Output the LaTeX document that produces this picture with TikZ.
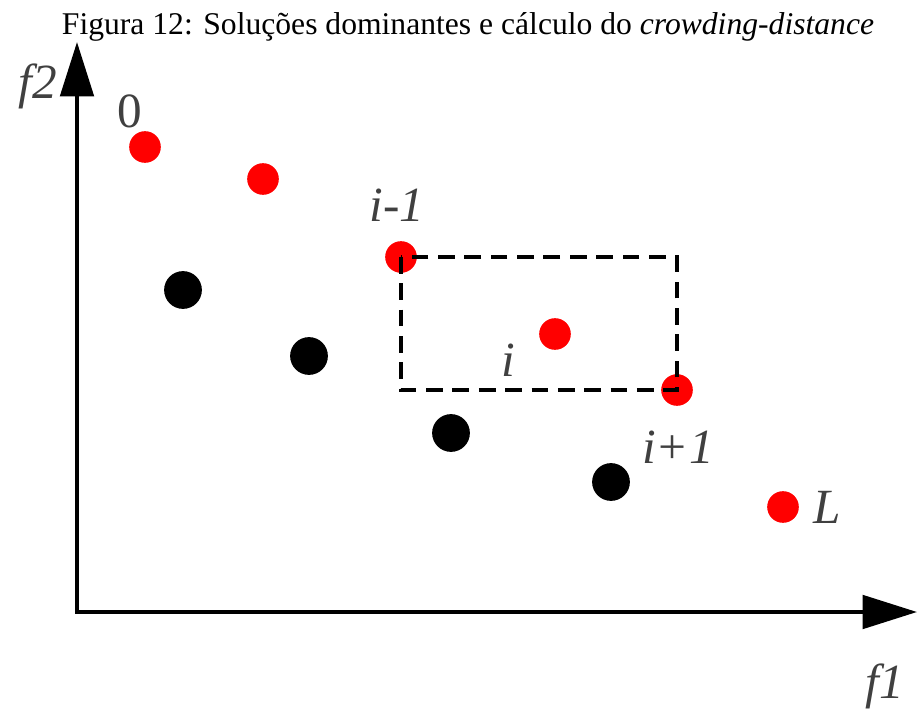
\documentclass[tikz,border=0pt]{standalone}
\usepackage{fontspec}
\setmainfont{LiberationSerif}[Extension=.ttf, UprightFont=*-Regular, ItalicFont=*-Italic, BoldFont=*-Bold, BoldItalicFont=*-BoldItalic]
\usetikzlibrary{arrows.meta,positioning}

\definecolor{lblgray}{RGB}{64,64,64}

\begin{document}
\begin{tikzpicture}[x=0.02cm, y=-0.02cm, >={Triangle[length=31pt, width=19pt]},
    reddot/.style={circle, fill=red, inner sep=0pt, minimum size=18pt},
    blackdot/.style={circle, fill=black, inner sep=0pt, minimum size=21.5pt},
    lbl/.style={text=lblgray, font=\fontsize{28}{30}\selectfont\itshape, inner sep=0pt},
    axis/.style={line width=2.3pt, <->}]
    \useasboundingbox (0,0) rectangle (919,709);

    % Title
    \node[font=\fontsize{18}{20}\selectfont] (title) at (468,27)
        {Figura 12: Soluções dominantes e cálculo do \textit{crowding-distance}};

    % Axes
    \coordinate (o) at (77,612);
    \coordinate (ytip) at (77,42);
    \coordinate (xtip) at (917,612);
    \draw[axis] (ytip) -- (o) -- (xtip);
    \node[lbl] (f2) at (38,86) {f2};
    \node[lbl] (f1) at (885,686) {f1};

    % Non-dominated front (red)
    \node[reddot] (p0) at (145,147) {};
    \node[reddot] (p1) at (263,179) {};
    \node[reddot] (p2) at (401,257) {};
    \node[reddot] (p3) at (555,334) {};
    \node[reddot] (p4) at (677,390) {};
    \node[reddot] (p5) at (783,507) {};

    % Dominated solutions (black)
    \node[blackdot] (q0) at (183,290) {};
    \node[blackdot] (q1) at (309,356) {};
    \node[blackdot] (q2) at (451,433) {};
    \node[blackdot] (q3) at (611,482) {};

    % Cuboid around i
    \draw[line width=2pt, dash pattern=on 9.5pt off 5.5pt] (p2.center) rectangle (p4.center);

    % Labels
    \node[lbl, font=\fontsize{28}{30}\selectfont] (l0) at (130,111) {0};
    \node[lbl] (lim1) at (397,205) {i-1};
    \node[lbl] (li) at (508,360) {i};
    \node[lbl] (lip1) at (678,447) {i+1};
    \node[lbl] (lL) at (827,507) {L};
\end{tikzpicture}
\end{document}
